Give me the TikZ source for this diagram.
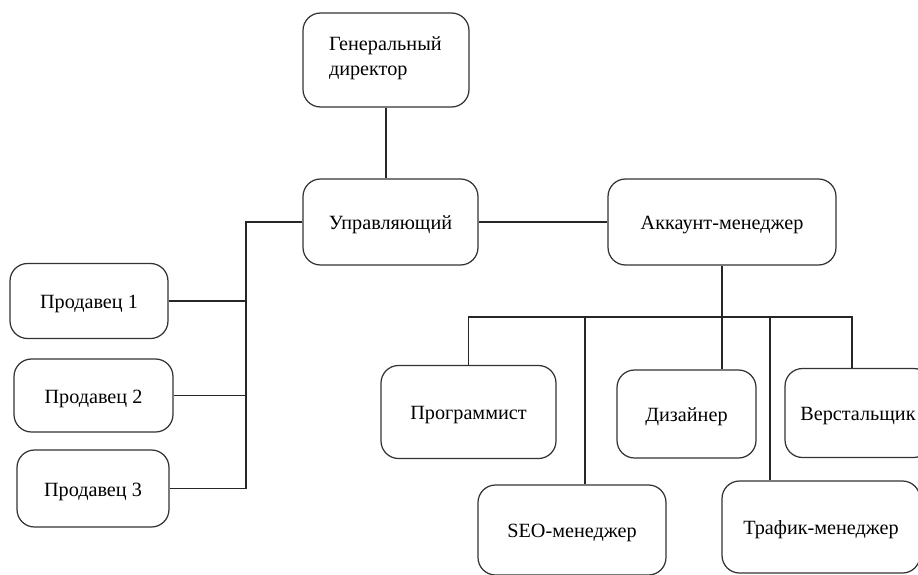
\documentclass[tikz,border=0pt]{standalone}
\usepackage{fontspec}
\setmainfont{Liberation Serif}
\usetikzlibrary{positioning,calc}

\begin{document}
\begin{tikzpicture}
[x=0.02cm, y=-0.02cm, font=\fontsize{11.5}{14.2}\selectfont,
 unit/.style={rectangle, draw=black!80, line width=0.7pt, rounded corners=0.35cm, inner sep=0pt},
 post/.style={unit, text height=2.15ex, text depth=0.25ex},
 link/.style={draw=black!85, line width=0.6pt}]
\useasboundingbox (0,0) rectangle (918,574);
\clip (0,0) rectangle (918,574);
% top of the chart
\node[unit, minimum width=3.32cm, minimum height=1.88cm] (gd) at (386,60)
  {\parbox[c][1.88cm][t]{2.28cm}{\vspace*{0.4cm}\strut Генеральный\\директор}};
\node[post, minimum width=3.5cm, minimum height=1.72cm] (upr) at (390.5,222) {Управляющий};
\node[post, minimum width=4.56cm, minimum height=1.72cm] (acc) at (722,222) {Аккаунт-менеджер};
% sellers
\node[post, minimum width=3.16cm, minimum height=1.5cm] (sell1) at (89,301) {Продавец 1};
\node[post, minimum width=3.18cm, minimum height=1.46cm] (sell2) at (93.5,395.5) {Продавец 2};
\node[post, minimum width=3.04cm, minimum height=1.54cm] (sell3) at (93,488.5) {Продавец 3};
% staff under the account manager
\node[post, minimum width=3.5cm, minimum height=1.86cm] (prog) at (468.5,412) {Программист};
\node[post, minimum width=2.78cm, minimum height=1.76cm] (diz) at (686.5,414) {Дизайнер};
\node[post, minimum width=2.92cm, minimum height=1.78cm] (verst) at (858,413) {Верстальщик};
\node[post, minimum width=3.76cm, minimum height=1.8cm] (seo) at (572,530) {SEO-менеджер};
\node[post, minimum width=3.96cm, minimum height=1.84cm] (traf) at (821,527) {Трафик-менеджер};

\coordinate (lbus) at (246,0);
\coordinate (rbus) at (0,317);
\coordinate (seotop) at ([xshift=0.26cm]seo.north);
\coordinate (traftop) at ([xshift=-1.02cm]traf.north);
\coordinate (versttop) at ([xshift=-0.12cm]verst.north);

\draw[link] (gd) -- (gd |- upr.north);
\draw[link] (upr.west) -- (upr.west -| lbus) -- (lbus |- sell3.east) -- (sell3.east);
\foreach \s in {sell1,sell2}
  \draw[link] (\s.east) -- (\s.east -| lbus);
\draw[link] (upr.east) -- (upr.east -| acc.west);
\draw[link] (acc) -- (acc.south |- diz.north);
\draw[link] (prog.north) |- (versttop |- rbus) -- (versttop);
\draw[link] (seotop |- rbus) -- (seotop);
\draw[link] (traftop |- rbus) -- (traftop);
\end{tikzpicture}
\end{document}
